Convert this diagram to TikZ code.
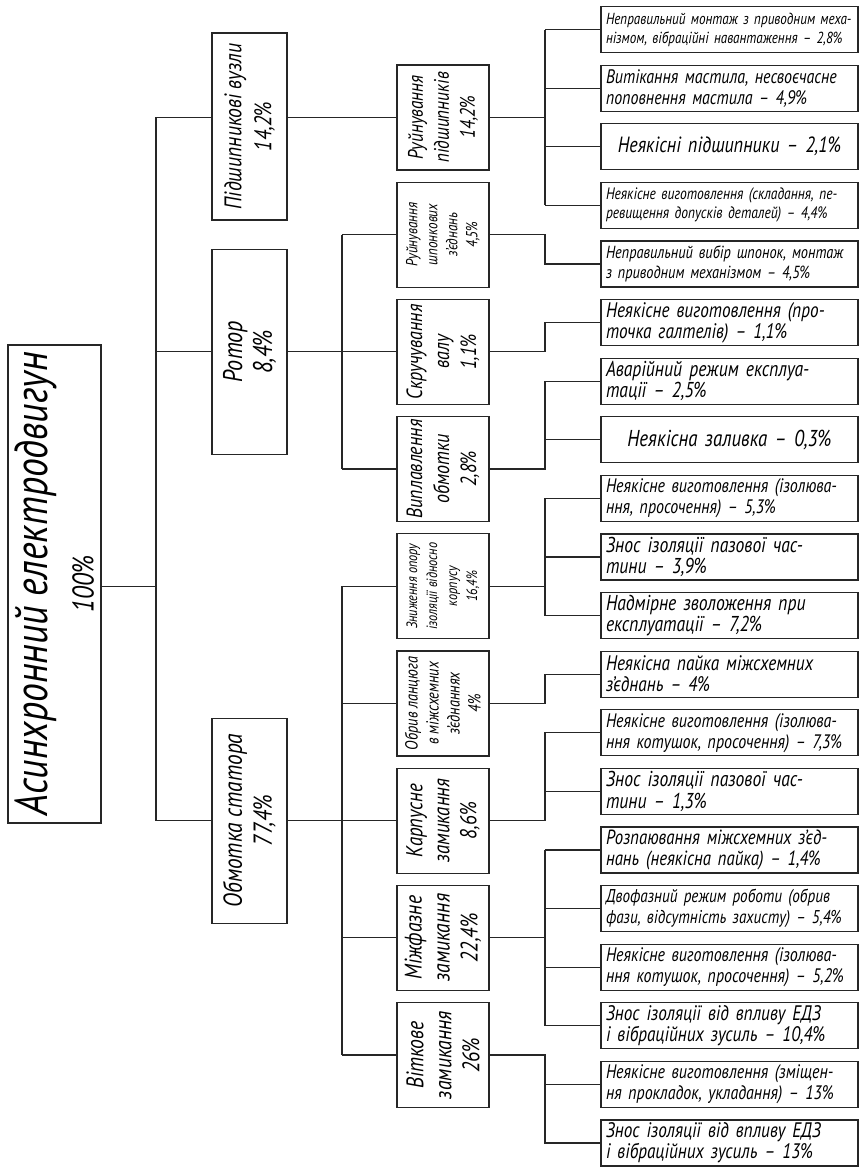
\documentclass[tikz,border=0pt]{standalone}
\usepackage{fontspec}
\setmainfont{PT Sans}[FakeStretch=0.82]
\newcommand\fz[2]{\fontsize{#1}{#2}\selectfont\itshape}
\tikzset{
 ln/.style={line width=1.2pt, draw=black!85},
 box/.style={draw=black!85, line width=1.2pt, rectangle, inner sep=0pt},
 lvA/.style={box, minimum width=75pt, minimum height=205pt},
 lvB/.style={box, minimum width=92pt, minimum height=105pt},
 leaf/.style={box, minimum height=46pt, text width=247pt, inner xsep=5pt, inner ysep=1pt, align=left},
 leafc/.style={leaf, align=center},
 vtxt/.style={rotate=90, align=center, inner sep=0pt},
}
\begin{document}
\begin{tikzpicture}[x=1pt,y=-1pt]
\useasboundingbox (0,0) rectangle (860,1167);
\coordinate (X0) at (156,0);
\coordinate (X1) at (342,0);
\coordinate (X2) at (545,0);
% root
\node[box, minimum width=93pt, minimum height=478pt] (A) at (54.5,584) {};
\node[vtxt, font=\fz{46}{48}] (At) at (A) {Асинхронний електродвигун\\[-2pt]{\fz{30}{32}100\%}};
% level 1
\node[box, minimum width=75pt, minimum height=187pt] (P) at (249.5,126.5) {};
\node[vtxt, font=\fz{24}{30}] (Pt) at (P) {Підшипникові вузли\\14,2\%};
\node[lvA] (R) at (249.5,351.8) {};
\node[vtxt, font=\fz{27}{30}] (Rt) at (R) {Ротор\\8,4\%};
\node[lvA] (S) at (249.5,820.6) {};
\node[vtxt, font=\fz{26}{30}] (St) at (S) {Обмотка статора\\77,4\%};
% level 2
\node[lvB] (B1) at (443,117.4) {};
\node[vtxt, font=\fz{21}{26}] (B1t) at (B1) {Руйнування\\підшипників\\14,2\%};
\node[lvB] (B2) at (443,234.6) {};
\node[vtxt, font=\fz{16}{20}] (B2t) at (B2) {Руйнування\\шпонкових\\з’єднань\\4,5\%};
\node[lvB] (B3) at (443,351.8) {};
\node[vtxt, font=\fz{22}{27}] (B3t) at (B3) {Скручування\\валу\\1,1\%};
\node[lvB] (B4) at (443,469.0) {};
\node[vtxt, font=\fz{22}{27}] (B4t) at (B4) {Виплавлення\\обмотки\\2,8\%};
\node[lvB] (B5) at (443,586.2) {};
\node[vtxt, font=\fz{15}{20}] (B5t) at (B5) {Зниження опору\\ізоляції відносно\\корпусу\\16,4\%};
\node[lvB] (B6) at (443,703.4) {};
\node[vtxt, font=\fz{17.5}{21}] (B6t) at (B6) {Обрив ланцюга\\в міжсхемних\\з’єднаннях\\4\%};
\node[lvB] (B7) at (443,820.6) {};
\node[vtxt, font=\fz{23}{27}] (B7t) at (B7) {Карпусне\\замикання\\8,6\%};
\node[lvB] (B8) at (443,937.8) {};
\node[vtxt, font=\fz{24}{28}] (B8t) at (B8) {Міжфазне\\замикання\\22,4\%};
\node[lvB] (B9) at (443,1055.0) {};
\node[vtxt, font=\fz{24}{28}] (B9t) at (B9) {Віткове\\замикання\\26\%};
% leaves
\node[leaf, font=\fz{16}{19}] (L1) at (729.5,29.5) {Неправильний монтаж з приводним меха-\\нізмом, вібраційні навантаження – 2,8\%};
\node[leaf, font=\fz{19.5}{21}] (L2) at (729.5,88.1) {Витікання мастила, несвоєчасне\\поповнення мастила – 4,9\%};
\node[leafc, font=\fz{22}{22}] (L3) at (729.5,146.7) {Неякісні підшипники – 2,1\%};
\node[leaf, font=\fz{16.5}{19}] (L4) at (729.5,205.3) {Неякісне виготовлення (складання, пе-\\ревищення допусків деталей) – 4,4\%};
\node[leaf, font=\fz{17.5}{20}] (L5) at (729.5,263.9) {Неправильний вибір шпонок, монтаж\\з приводним механізмом – 4,5\%};
\node[leaf, font=\fz{21}{21}] (L6) at (729.5,322.5) {Неякісне виготовлення (про-\\точка галтелів) – 1,1\%};
\node[leaf, font=\fz{21.5}{21.5}] (L7) at (729.5,381.1) {Аварійний режим експлуа-\\тації – 2,5\%};
\node[leafc, font=\fz{23}{22}] (L8) at (729.5,439.7) {Неякісна заливка – 0,3\%};
\node[leaf, font=\fz{19.5}{21}] (L9) at (729.5,498.3) {Неякісне виготовлення (ізолюва-\\ння, просочення) – 5,3\%};
\node[leaf, font=\fz{21.5}{21.5}] (L10) at (729.5,556.9) {Знос ізоляції пазової час-\\тини – 3,9\%};
\node[leaf, font=\fz{21.5}{21.5}] (L11) at (729.5,615.5) {Надмірне зволоження при\\експлуатації – 7,2\%};
\node[leaf, font=\fz{21}{21}] (L12) at (729.5,674.1) {Неякісна пайка міжсхемних\\з’єднань – 4\%};
\node[leaf, font=\fz{19.5}{21}] (L13) at (729.5,732.7) {Неякісне виготовлення (ізолюва-\\ння котушок, просочення) – 7,3\%};
\node[leaf, font=\fz{21.5}{21.5}] (L14) at (729.5,791.3) {Знос ізоляції пазової час-\\тини – 1,3\%};
\node[leaf, font=\fz{20.5}{21}] (L15) at (729.5,849.9) {Розпаювання міжсхемних з’єд-\\нань (неякісна пайка) – 1,4\%};
\node[leaf, font=\fz{18.5}{21}] (L16) at (729.5,908.5) {Двофазний режим роботи (обрив\\фази, відсутність захисту) – 5,4\%};
\node[leaf, font=\fz{19.5}{21}] (L17) at (729.5,967.1) {Неякісне виготовлення (ізолюва-\\ння котушок, просочення) – 5,2\%};
\node[leaf, font=\fz{21}{21}] (L18) at (729.5,1025.7) {Знос ізоляції від впливу ЕДЗ\\і вібраційних зусиль – 10,4\%};
\node[leaf, font=\fz{19.5}{21}] (L19) at (729.5,1084.3) {Неякісне виготовлення (зміщен-\\ня прокладок, укладання) – 13\%};
\node[leaf, font=\fz{21}{21}] (L20) at (729.5,1142.9) {Знос ізоляції від впливу ЕДЗ\\і вібраційних зусиль – 13\%};
% level 0 -> 1
\draw[ln] (A.east |- B5) -- (X0 |- B5);
\draw[ln] (X0 |- B1) -- (X0 |- S);
\draw[ln] (X0 |- B1) -- (P.west |- B1);
\draw[ln] (X0 |- R) -- (R.west);
\draw[ln] (X0 |- S) -- (S.west);
% level 1 -> 2
\draw[ln] (P.east |- B1) -- (B1.west);
\draw[ln] (R.east) -- (B3.west);
\draw[ln] (X1 |- B2) -- (X1 |- B4);
\draw[ln] (X1 |- B2) -- (B2.west);
\draw[ln] (X1 |- B4) -- (B4.west);
\draw[ln] (S.east) -- (B7.west);
\draw[ln] (X1 |- B5) -- (X1 |- B9);
\foreach \b in {B5,B6,B8,B9} \draw[ln] (X1 |- \b) -- (\b.west);
% level 2 -> 3
\draw[ln] (B1.east) -- (X2 |- B1);
\draw[ln] (X2 |- L1) -- (X2 |- L4);
\foreach \l in {L1,L2,L3,L4} \draw[ln] (X2 |- \l) -- (\l.west);
\draw[ln] (B2.east) -| (X2 |- L5) -- (L5.west);
\draw[ln] (B3.east) -| (X2 |- L6) -- (L6.west);
\draw[ln] (B4.east) -| (X2 |- L7) -- (L7.west);
\draw[ln] (X2 |- L8) -- (L8.west);
\draw[ln] (B5.east) -- (X2 |- B5);
\draw[ln] (X2 |- L9) -- (X2 |- L11);
\foreach \l in {L9,L10,L11} \draw[ln] (X2 |- \l) -- (\l.west);
\draw[ln] (B6.east) -| (X2 |- L12) -- (L12.west);
\draw[ln] (B7.east) -| (X2 |- L13) -- (L13.west);
\draw[ln] (X2 |- L14) -- (L14.west);
\draw[ln] (B8.east) -- (X2 |- B8);
\draw[ln] (X2 |- L15) -- (X2 |- L18);
\foreach \l in {L15,L16,L17,L18} \draw[ln] (X2 |- \l) -- (\l.west);
\draw[ln] (B9.east) -| (X2 |- L20) -- (L20.west);
\draw[ln] (X2 |- L19) -- (L19.west);
\end{tikzpicture}
\end{document}
